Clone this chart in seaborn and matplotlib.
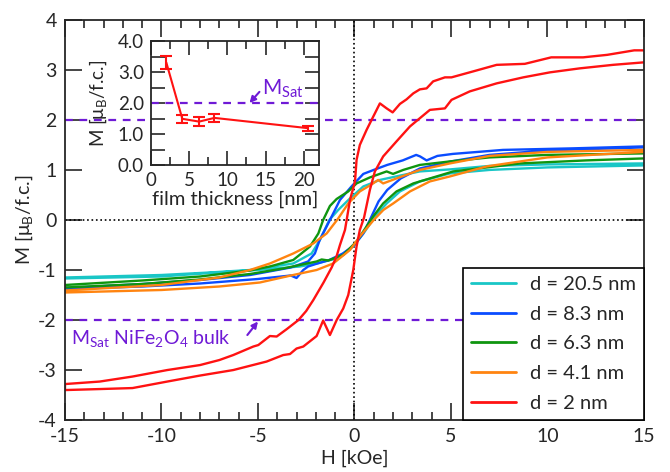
import numpy as np
import pandas as pd
import matplotlib
matplotlib.use('Agg')
import matplotlib.pyplot as plt
from matplotlib.ticker import MultipleLocator
import seaborn as sns

# hysteresis loops: upper (descending) and lower (ascending) branch
# d = 20.5 nm
cyan_up_H = [15, 10, 7, 4.95, 3.39, 2.53, 1.32, 0.46, -0.23, -0.84, -1.3, -1.79, -2.22, -3.17, -5.41, -7.5, -10, -15]
cyan_up_M = [1.13, 1.11, 1.08, 1.01, 0.97, 0.90, 0.80, 0.67, 0.43, 0.20, 0.0, -0.40, -0.67, -0.87, -1.0, -1.05, -1.10, -1.15]
cyan_dn_H = [-15, -10, -7.5, -5, -2.82, -1.96, -0.92, -0.06, 0.54, 1.06, 1.67, 2.36, 3.39, 4.95, 7, 10, 15]
cyan_dn_M = [-1.17, -1.13, -1.06, -1.0, -0.93, -0.87, -0.77, -0.53, -0.23, 0.07, 0.33, 0.57, 0.77, 0.93, 1.0, 1.05, 1.09]

# d = 8.3 nm
blue_up_H = [15, 11.2, 7.7, 5.1, 4.3, 3.74, 3.4, 3.2, 2.5, 1.7, 1.0, 0.46, -0.15, -0.75, -1.1, -1.44, -1.8, -2.05, -2.4, -3.3, -5.4, -8, -11, -15]
blue_up_M = [1.47, 1.43, 1.40, 1.32, 1.28, 1.19, 1.27, 1.30, 1.19, 1.10, 1.00, 0.92, 0.67, 0.40, 0.13, -0.13, -0.40, -0.67, -0.83, -0.95, -1.10, -1.20, -1.28, -1.36]
blue_dn_H = [-15, -11, -8, -5, -3.3, -3.0, -2.65, -2.4, -2.0, -1.3, -0.6, 0.0, 0.46, 0.8, 1.25, 1.7, 2.4, 3.4, 5.0, 7.0, 10, 15]
blue_dn_M = [-1.38, -1.33, -1.27, -1.18, -1.11, -1.16, -1.0, -0.93, -0.88, -0.80, -0.67, -0.50, -0.27, 0.0, 0.37, 0.60, 0.83, 1.03, 1.17, 1.30, 1.39, 1.45]

# d = 6.3 nm
green_up_H = [15, 10, 7, 4.95, 3.39, 2.53, 2.0, 1.67, 0.8, 0.11, -0.32, -0.92, -1.27, -1.62, -1.87, -2.3, -3.17, -4.38, -5.41, -8, -11, -15]
green_up_M = [1.33, 1.30, 1.25, 1.17, 1.10, 1.00, 0.92, 0.97, 0.85, 0.73, 0.57, 0.42, 0.28, 0.0, -0.27, -0.53, -0.80, -0.93, -1.01, -1.13, -1.21, -1.30]
green_dn_H = [-15, -11, -8, -5.41, -3.69, -1.96, -1.7, -1.36, -0.58, 0.11, 0.63, 0.97, 1.49, 2.18, 3.05, 4.26, 5.12, 8.6, 12, 15]
green_dn_M = [-1.35, -1.28, -1.19, -1.08, -0.97, -0.83, -0.79, -0.81, -0.70, -0.43, -0.13, 0.07, 0.33, 0.57, 0.73, 0.87, 0.97, 1.13, 1.19, 1.23]

# d = 4.1 nm
orange_up_H = [15, 10, 7, 4.95, 3.39, 2.18, 1.49, 1.23, 0.97, 0.28, -0.32, -0.84, -1.44, -2.13, -3.17, -4.38, -5.41, -7, -10, -15]
orange_up_M = [1.40, 1.36, 1.28, 1.13, 1.00, 0.83, 0.73, 0.80, 0.73, 0.57, 0.33, 0.03, -0.27, -0.47, -0.67, -0.87, -1.0, -1.15, -1.30, -1.41]
orange_dn_H = [-15, -10, -7, -4.9, -3.17, -1.96, -1.1, -0.23, 0.28, 1.0, 1.5, 2.01, 2.88, 3.91, 4.95, 6.85, 10, 15]
orange_dn_M = [-1.45, -1.40, -1.33, -1.25, -1.10, -1.0, -0.87, -0.6, -0.33, 0.0, 0.2, 0.33, 0.57, 0.77, 0.87, 1.07, 1.25, 1.36]

# d = 2 nm
red_up_H = [15, 14.5, 13.1, 11.85, 10.2, 8.83, 7.37, 6.16, 5.03, 4.69, 4.08, 3.74, 3.39, 3.05, 2.70, 2.36, 1.98, 1.67, 1.32,
            0.89, 0.63, 0.28, 0.11, 0.03, -0.23, -0.49, -0.75, -0.92, -1.18, -1.6, -2.13, -2.5, -2.9, -3.5, -4.03, -4.38,
            -4.98, -5.24, -6.28, -7.0, -8.0, -9.7, -11.5, -13.2, -15]
red_up_M = [3.39, 3.39, 3.30, 3.25, 3.25, 3.12, 3.10, 2.97, 2.85, 2.85, 2.77, 2.63, 2.61, 2.53, 2.41, 2.32, 2.15, 2.23, 2.33,
            2.00, 1.80, 1.50, 1.20, 0.77, 0.40, -0.20, -0.50, -0.72, -0.95, -1.25, -1.60, -1.82, -2.0, -2.18, -2.33, -2.32,
            -2.50, -2.53, -2.70, -2.80, -2.90, -3.00, -3.13, -3.23, -3.28]
red_dn_H = [-15, -13.2, -11.5, -9.7, -8.0, -6.28, -4.55, -3.69, -3.34, -3.0, -2.65, -1.96, -1.62, -1.27, -0.92, -0.58, -0.32,
            -0.06, 0.11, 0.28, 0.5, 0.8, 1.06, 1.49, 2.18, 2.88, 3.91, 4.69, 5.03, 5.98, 7.37, 8.75, 10.13, 11.68, 13.4, 15]
red_dn_M = [-3.40, -3.38, -3.36, -3.23, -3.11, -3.0, -2.83, -2.70, -2.68, -2.57, -2.53, -2.32, -2.01, -2.30, -2.0, -1.77, -1.5,
            -1.0, -0.53, -0.2, 0.05, 0.6, 0.97, 1.27, 1.57, 1.87, 2.2, 2.23, 2.4, 2.57, 2.73, 2.85, 2.95, 3.03, 3.10, 3.15]

# inset: saturation moment vs film thickness
thickness = [2, 4.1, 6.3, 8.3, 20.5]
m_sat = [3.31, 1.49, 1.40, 1.52, 1.19]
m_err = [0.21, 0.12, 0.14, 0.12, 0.08]

purple = '#6f1ad6'
loops = [
    ('d = 20.5 nm', '#19c6c6', cyan_up_H, cyan_up_M, cyan_dn_H, cyan_dn_M),
    ('d = 8.3 nm', '#0a4cff', blue_up_H, blue_up_M, blue_dn_H, blue_dn_M),
    ('d = 6.3 nm', '#0f950f', green_up_H, green_up_M, green_dn_H, green_dn_M),
    ('d = 4.1 nm', '#ff8410', orange_up_H, orange_up_M, orange_dn_H, orange_dn_M),
    ('d = 2 nm', '#ff1212', red_up_H, red_up_M, red_dn_H, red_dn_M),
]

sns.set_style('ticks')
plt.rcParams['font.family'] = ['Lato', 'DejaVu Sans']
plt.rcParams['axes.unicode_minus'] = False
plt.rcParams['mathtext.default'] = 'regular'

fig = plt.figure(figsize=(6.7, 4.72), dpi=100)
ax = fig.add_axes([0.097, 0.110, 0.864, 0.848])

ax.axhline(0, color='black', ls=':', lw=1.2, zorder=1)
ax.axvline(0, color='black', ls=':', lw=1.2, zorder=1)
ax.axhline(2, color=purple, ls=(0, (3.5, 3)), lw=1.6, zorder=1)
ax.axhline(-2, color=purple, ls=(0, (3.5, 3)), lw=1.6, zorder=1)

for label, col, uh, um, dh, dm in loops:
    df = pd.DataFrame({'H': uh + dh, 'M': um + dm})
    sns.lineplot(data=df, x='H', y='M', sort=False, estimator=None, color=col, lw=1.7, label=label, ax=ax)

ax.set_xlim(-15, 15)
ax.set_ylim(-4, 4)
ax.xaxis.set_major_locator(MultipleLocator(5))
ax.xaxis.set_minor_locator(MultipleLocator(1))
ax.yaxis.set_major_locator(MultipleLocator(1))
ax.tick_params(which='major', direction='in', length=12, width=1.2, top=True, right=True, labelsize=14, pad=6)
ax.tick_params(which='minor', direction='in', length=6, width=1.2, top=True, right=True)
for s in ax.spines.values():
    s.set_linewidth(1.3)
ax.set_xlabel('H [kOe]', fontsize=14, labelpad=3)
ax.set_ylabel('M [μ$_B$/f.c.]', fontsize=14, labelpad=2)

ax.text(-14.7, -2.36, 'M$_{Sat}$ NiFe$_2$O$_4$ bulk', color=purple, fontsize=14, ha='left', va='center')
ax.annotate('', xy=(-5.0, -2.03), xytext=(-5.55, -2.3),
            arrowprops=dict(arrowstyle='-|>', color=purple, lw=1.5, shrinkA=0, shrinkB=0, mutation_scale=9))

leg = ax.legend(loc='lower right', borderaxespad=0, fancybox=False, edgecolor='black', fontsize=14.5,
                handlelength=2.2, labelspacing=0.63, borderpad=0.4, handletextpad=0.7)
leg.get_frame().set_linewidth(1.2)
leg.get_frame().set_alpha(1)
for h in leg.get_lines():
    h.set_linewidth(2)

# inset
axin = fig.add_axes([0.2254, 0.6504, 0.2507, 0.2627])
axin.set_facecolor('white')
axin.axhline(2.0, color=purple, ls=(0, (3.5, 3)), lw=1.6, zorder=1)
sns.lineplot(x=thickness, y=m_sat, color='#ff1212', lw=1.5, estimator=None, sort=False, ax=axin)
axin.errorbar(thickness, m_sat, yerr=m_err, fmt='none', ecolor='#ff1212', elinewidth=1.5, capsize=4, capthick=1.5)
axin.set_xlim(0, 22)
axin.set_ylim(0, 4)
axin.xaxis.set_major_locator(MultipleLocator(5))
axin.xaxis.set_minor_locator(MultipleLocator(2.5))
axin.yaxis.set_major_locator(MultipleLocator(1))
axin.yaxis.set_minor_locator(MultipleLocator(0.5))
axin.yaxis.set_major_formatter(matplotlib.ticker.FormatStrFormatter('%.1f'))
axin.tick_params(which='both', direction='in', length=10, width=1.2, top=True, right=True, labelsize=13.5, pad=5)
axin.tick_params(axis='x', which='minor', length=6)
for s in axin.spines.values():
    s.set_linewidth(1.3)
axin.set_xlabel('film thickness [nm]', fontsize=14.5, labelpad=1)
axin.set_ylabel('M [μ$_B$/f.c.]', fontsize=13.5)
axin.yaxis.set_label_coords(-0.25, 0.5)
axin.text(14.6, 2.46, 'M$_{Sat}$', color=purple, fontsize=15, ha='left', va='center')
axin.annotate('', xy=(12.9, 2.0), xytext=(14.2, 2.36),
              arrowprops=dict(arrowstyle='-|>', color=purple, lw=1.5, shrinkA=0, shrinkB=0, mutation_scale=9))

fig.savefig('out.png', dpi=100)
